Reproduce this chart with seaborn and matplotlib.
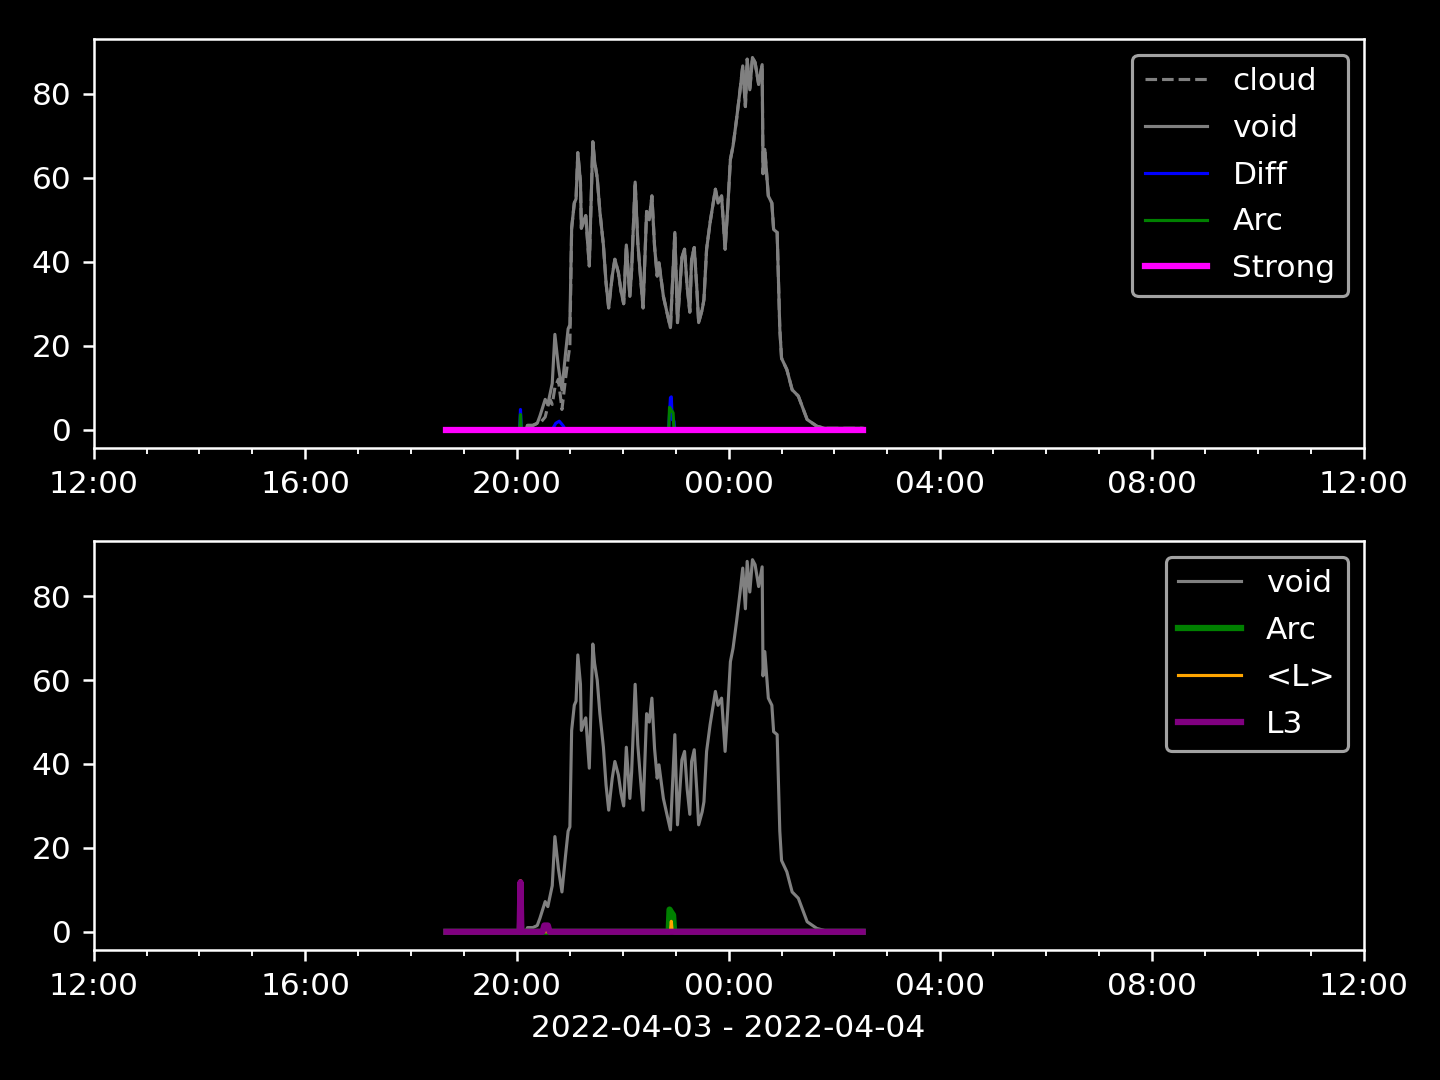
import pandas as pd
import matplotlib
matplotlib.use('Agg')
import matplotlib.pyplot as plt
import matplotlib.dates as mdates
import seaborn as sns

# data (clock times, values)
void_times = ["18:40", "20:10", "20:12", "20:18", "20:23", "20:26", "20:32", "20:35", "20:38", "20:40",
              "20:43", "20:47", "20:51", "20:55", "20:58", "21:00", "21:02", "21:05", "21:07", "21:09",
              "21:12", "21:13", "21:16", "21:18", "21:22", "21:26", "21:28", "21:31", "21:34", "21:38",
              "21:41", "21:44", "21:48", "21:51", "21:55", "21:58", "22:01", "22:04", "22:08", "22:10",
              "22:14", "22:17", "22:20", "22:23", "22:27", "22:30", "22:33", "22:36", "22:39", "22:41",
              "22:46", "22:50", "22:54", "22:59", "23:02", "23:07", "23:10", "23:13", "23:16", "23:18",
              "23:21", "23:24", "23:26", "23:30", "23:32", "23:35", "23:39", "23:45", "23:48", "23:52",
              "23:56", "23:59", "00:02", "00:05", "00:09", "00:13", "00:16", "00:19", "00:21", "00:24",
              "00:27", "00:30", "00:34", "00:38", "00:39", "00:41", "00:45", "00:49", "00:51", "00:55",
              "00:58", "01:00", "01:06", "01:12", "01:19", "01:29", "01:40", "01:49", "02:32"]
void_vals = [0, 0, 1.0, 1.0, 1.5, 3.2, 7.2, 6.0, 9.0, 11.0,
             22.7, 15.0, 9.5, 18.0, 24.0, 25.0, 48.0, 54.0, 55.0, 66.0,
             59.0, 48.0, 50.0, 51.0, 39.0, 68.6, 64.0, 60.0, 52.0, 44.0,
             35.0, 29.0, 36.6, 40.6, 37.4, 33.0, 30.0, 44.0, 31.8, 38.0,
             59.0, 44.6, 36.6, 29.0, 52.0, 50.0, 55.7, 43.7, 36.6, 39.8,
             31.8, 28.0, 24.3, 47.0, 25.5, 41.0, 43.0, 34.0, 28.0, 40.6,
             43.4, 33.4, 25.5, 28.6, 31.0, 43.0, 49.4, 57.3, 54.0, 55.7,
             43.0, 53.0, 64.4, 67.6, 74.0, 81.0, 86.7, 77.0, 88.3, 81.0,
             88.7, 87.5, 82.3, 87.0, 61.0, 66.8, 55.7, 54.0, 47.7, 47.0,
             24.0, 17.0, 14.3, 9.5, 8.0, 2.4, 0.8, 0.3, 0.3]
cloud_vals = [0, 0, 1.0, 1.0, 1.5, 1.5, 3.0, 5.6, 7.0, 6.0,
              10.0, 12.0, 4.8, 12.0, 17.0, 20.0, 48.0, 54.0, 55.0, 66.0,
              59.0, 48.0, 50.0, 51.0, 39.0, 68.6, 64.0, 60.0, 52.0, 44.0,
              35.0, 29.0, 36.6, 40.6, 37.4, 33.0, 30.0, 44.0, 31.8, 38.0,
              59.0, 44.6, 36.6, 29.0, 52.0, 50.0, 55.7, 43.7, 36.6, 39.8,
              31.8, 28.0, 24.3, 47.0, 25.5, 41.0, 43.0, 34.0, 28.0, 40.6,
              43.4, 33.4, 25.5, 28.6, 31.0, 43.0, 49.4, 57.3, 54.0, 55.7,
              43.0, 53.0, 64.4, 67.6, 74.0, 81.0, 86.7, 77.0, 88.3, 81.0,
              88.7, 87.5, 82.3, 87.0, 61.0, 66.8, 55.7, 54.0, 47.7, 47.0,
              24.0, 17.0, 14.3, 9.5, 8.0, 2.4, 0.8, 0.3, 0.3]

diff_times = ["18:40", "20:03", "20:04", "20:05", "20:40", "20:44", "20:48", "20:52", "20:55",
              "22:52", "22:54", "22:55", "22:56", "22:58", "22:59", "02:32"]
diff_vals = [0, 0, 4.8, 0, 0, 1.5, 2.0, 1.0, 0,
             0, 7.6, 7.8, 2.4, 2.0, 0, 0]

arc_times = ["18:40", "20:03", "20:04", "20:05", "22:52", "22:53", "22:55", "22:57", "22:58", "22:59", "02:32"]
arc_vals = [0, 0, 3.6, 0, 0, 5.3, 4.6, 4.0, 0.5, 0, 0]

strong_times = ["18:40", "02:32"]
strong_vals = [0, 0]

meanl_times = ["18:40", "20:03", "20:04", "20:05", "22:54", "22:55", "22:56", "02:32"]
meanl_vals = [0, 0, 12.2, 0, 0, 2.5, 0, 0]

l3_times = ["18:40", "20:03", "20:04", "20:05", "20:29", "20:31", "20:35", "20:37", "02:32"]
l3_vals = [0, 0, 11.8, 0, 0, 1.5, 1.5, 0, 0]


def to_ts(times):
    # afternoon/evening -> 3 April, early morning -> 4 April
    out = []
    for t in times:
        day = '2022-04-04' if int(t[:2]) < 12 else '2022-04-03'
        out.append(pd.Timestamp(day + ' ' + t))
    return out


plt.style.use('dark_background')
fig, (ax1, ax2) = plt.subplots(2, 1, figsize=(6.4, 4.8), dpi=225)

# top panel
sns.lineplot(x=to_ts(void_times), y=cloud_vals, ax=ax1, color='gray', lw=1, linestyle='--', label='cloud')
sns.lineplot(x=to_ts(void_times), y=void_vals, ax=ax1, color='gray', lw=1, label='void')
sns.lineplot(x=to_ts(diff_times), y=diff_vals, ax=ax1, color='blue', lw=1, label='Diff')
sns.lineplot(x=to_ts(arc_times), y=arc_vals, ax=ax1, color='green', lw=1, label='Arc')
sns.lineplot(x=to_ts(strong_times), y=strong_vals, ax=ax1, color='magenta', lw=2, label='Strong')

# bottom panel
sns.lineplot(x=to_ts(void_times), y=void_vals, ax=ax2, color='gray', lw=1, label='void')
sns.lineplot(x=to_ts(arc_times), y=arc_vals, ax=ax2, color='green', lw=2, label='Arc')
sns.lineplot(x=to_ts(meanl_times), y=meanl_vals, ax=ax2, color='orange', lw=1, label='<L>')
sns.lineplot(x=to_ts(l3_times), y=l3_vals, ax=ax2, color='purple', lw=2, label='L3')

for ax in (ax1, ax2):
    ax.set_xlim(pd.Timestamp('2022-04-03 12:00'), pd.Timestamp('2022-04-04 12:00'))
    ax.xaxis.set_major_locator(mdates.HourLocator(byhour=[0, 4, 8, 12, 16, 20]))
    ax.xaxis.set_minor_locator(mdates.HourLocator())
    ax.xaxis.set_major_formatter(mdates.DateFormatter('%H:%M'))
    ax.set_ylabel('')
    ax.set_xlabel('')
    ax.legend(loc='upper right', labelspacing=0.57)

ax2.set_xlabel('2022-04-03 - 2022-04-04')

fig.subplots_adjust(left=0.065, right=0.947, top=0.964, bottom=0.12, hspace=0.227)
plt.savefig('out.png')
